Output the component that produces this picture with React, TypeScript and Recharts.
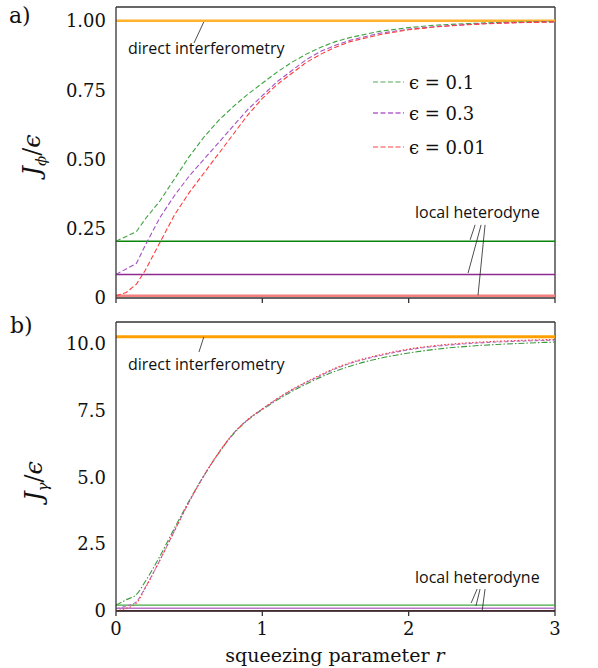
import { LineChart, Line, XAxis, YAxis, ReferenceLine } from 'recharts';

// squeezing parameter r
const R = [0, 0.07, 0.14, 0.2, 0.3, 0.4, 0.5, 0.6, 0.7, 0.8, 0.9, 1.0, 1.1, 1.2, 1.3, 1.4, 1.5, 1.6, 1.8, 2.0, 2.2, 2.4, 2.6, 2.8, 3.0];

// panel a) J_phi / eps
const phiEps01 = [0.205, 0.222, 0.24, 0.285, 0.35, 0.43, 0.51, 0.58, 0.64, 0.69, 0.735, 0.775, 0.815, 0.85, 0.88, 0.905, 0.925, 0.94, 0.962, 0.976, 0.985, 0.99, 0.994, 0.996, 0.997];
const phiEps03 = [0.085, 0.105, 0.125, 0.19, 0.29, 0.37, 0.44, 0.5, 0.56, 0.62, 0.68, 0.73, 0.78, 0.82, 0.86, 0.89, 0.912, 0.93, 0.955, 0.97, 0.98, 0.987, 0.992, 0.995, 0.997];
const phiEps001 = [0.008, 0.02, 0.05, 0.1, 0.2, 0.3, 0.38, 0.45, 0.52, 0.59, 0.66, 0.72, 0.77, 0.81, 0.85, 0.88, 0.905, 0.925, 0.95, 0.968, 0.979, 0.986, 0.991, 0.994, 0.996];
const phiDirect = 1.0;
const phiHetero = [0.205, 0.085, 0.008];

// panel b) J_gamma / eps
const gamEps01 = [0.22, 0.42, 0.62, 1.1, 2.05, 3.1, 4.12, 5.05, 5.88, 6.6, 7.13, 7.53, 7.88, 8.2, 8.48, 8.74, 8.96, 9.15, 9.44, 9.64, 9.79, 9.89, 9.96, 10.01, 10.05];
const gamEps03 = [0.08, 0.18, 0.35, 0.88, 1.9, 3.0, 4.08, 5.05, 5.9, 6.62, 7.15, 7.55, 7.92, 8.25, 8.54, 8.8, 9.05, 9.25, 9.54, 9.76, 9.9, 9.99, 10.05, 10.09, 10.12];
const gamEps001 = [0.01, 0.1, 0.3, 0.85, 1.9, 3.0, 4.08, 5.05, 5.9, 6.62, 7.15, 7.55, 7.93, 8.27, 8.56, 8.83, 9.08, 9.28, 9.57, 9.79, 9.93, 10.02, 10.08, 10.12, 10.15];
const gamDirect = 10.25;
const gamHetero = [0.22, 0.1, 0.01];

const xTicks = [0, 1, 2, 3];
const phiTicks = [0, 0.25, 0.5, 0.75, 1.0];
const gamTicks = [0, 2.5, 5.0, 7.5, 10.0];
const legendLabels = ['ϵ = 0.1', 'ϵ = 0.3', 'ϵ = 0.01'];

const SERIF = 'DejaVu Serif';
const SANS = 'Open Sans';
const FRAME = '#333';

const tickStyle = { fill: '#111', fontSize: 18, fontFamily: SERIF };

function Txt({ left, top, size = 16, font = SANS, children, style = {} }: any) {
  return (
    <div style={{ position: 'absolute', left, top, fontSize: size, fontFamily: font, lineHeight: 1, color: '#111', whiteSpace: 'nowrap', ...style }}>
      {children}
    </div>
  );
}

export default function App() {
  const topRows = R.map((r, i) => ({ r, g: phiEps01[i], p: phiEps03[i], d: phiEps001[i] }));
  const botRows = R.map((r, i) => ({ r, g: gamEps01[i], p: gamEps03[i], d: gamEps001[i] }));

  return (
    <div style={{ position: 'absolute', left: 0, top: 0, width: 598, height: 668, background: '#fff' }}>
      {/* a) */}
      <div style={{ position: 'absolute', left: 0, top: 0 }}>
        <LineChart width={598} height={320} data={topRows} margin={{ top: 7, right: 43, left: 56, bottom: 0 }}>
          <XAxis dataKey="r" type="number" domain={[0, 3]} ticks={xTicks} tickFormatter={() => ''} height={22} stroke={FRAME} strokeWidth={1.3} tickSize={5} />
          <YAxis type="number" domain={[0, 1.05]} allowDataOverflow ticks={phiTicks} width={60} tickLine={false} stroke={FRAME} strokeWidth={1.3} tick={tickStyle} tickSize={6} tickMargin={4} tickFormatter={(v: number) => (v === 0 ? '0' : v.toFixed(2))} />
          <ReferenceLine y={1.05} stroke={FRAME} strokeWidth={1.3} />
          <ReferenceLine x={3} stroke={FRAME} strokeWidth={1.3} />
          <ReferenceLine y={phiDirect} stroke="#ffb22e" strokeWidth={2.5} />
          <ReferenceLine y={phiHetero[0]} stroke="#0a850a" strokeWidth={1.4} />
          <ReferenceLine y={phiHetero[1]} stroke="#8e2a8e" strokeWidth={1.4} />
          <ReferenceLine y={phiHetero[2]} stroke="#f48080" strokeWidth={2.5} />
          <ReferenceLine segment={[{ x: 0.6, y: 0.996 }, { x: 0.533, y: 0.92 }]} stroke="#222" strokeWidth={0.8} ifOverflow="visible" />
          <ReferenceLine segment={[{ x: 2.454, y: 0.264 }, { x: 2.42, y: 0.21 }]} stroke="#222" strokeWidth={0.8} ifOverflow="visible" />
          <ReferenceLine segment={[{ x: 2.495, y: 0.264 }, { x: 2.406, y: 0.09 }]} stroke="#222" strokeWidth={0.8} ifOverflow="visible" />
          <ReferenceLine segment={[{ x: 2.522, y: 0.264 }, { x: 2.474, y: 0.01 }]} stroke="#222" strokeWidth={0.8} ifOverflow="visible" />
          <Line type="linear" dataKey="g" stroke="#3fa33f" strokeWidth={1.1} strokeDasharray="5 2.5" dot={false} isAnimationActive={false} />
          <Line type="linear" dataKey="p" stroke="#a552c2" strokeWidth={1.1} strokeDasharray="5 2.5" dot={false} isAnimationActive={false} />
          <Line type="linear" dataKey="d" stroke="#ff3b3b" strokeWidth={1.1} strokeDasharray="5 2.5" dot={false} isAnimationActive={false} />
        </LineChart>
      </div>

      {/* b) */}
      <div style={{ position: 'absolute', left: 0, top: 316 }}>
        <LineChart width={598} height={352} data={botRows} margin={{ top: 6, right: 43, left: 56, bottom: 22 }}>
          <XAxis dataKey="r" type="number" domain={[0, 3]} ticks={xTicks} height={35} stroke={FRAME} strokeWidth={1.3} tickSize={5} tickMargin={6} tick={tickStyle} />
          <YAxis type="number" domain={[0, 10.8]} allowDataOverflow ticks={gamTicks} width={60} tickLine={false} stroke={FRAME} strokeWidth={1.3} tick={tickStyle} tickSize={6} tickMargin={4} tickFormatter={(v: number) => (v === 0 ? '0' : v.toFixed(1))} />
          <ReferenceLine y={10.8} stroke={FRAME} strokeWidth={1.3} />
          <ReferenceLine x={3} stroke={FRAME} strokeWidth={1.3} />
          <ReferenceLine y={gamDirect} stroke="#ffa000" strokeWidth={3} />
          <ReferenceLine y={gamHetero[0]} stroke="#45a845" strokeWidth={1.4} />
          <ReferenceLine y={gamHetero[1]} stroke="#b877c8" strokeWidth={1.4} />
          <ReferenceLine y={gamHetero[2]} stroke="#7a0a2a" strokeWidth={1.4} />
          <ReferenceLine segment={[{ x: 0.6, y: 10.24 }, { x: 0.567, y: 9.68 }]} stroke="#222" strokeWidth={0.8} ifOverflow="visible" />
          <ReferenceLine segment={[{ x: 2.468, y: 0.82 }, { x: 2.427, y: 0.3 }]} stroke="#222" strokeWidth={0.8} ifOverflow="visible" />
          <ReferenceLine segment={[{ x: 2.488, y: 0.82 }, { x: 2.46, y: 0.19 }]} stroke="#222" strokeWidth={0.8} ifOverflow="visible" />
          <ReferenceLine segment={[{ x: 2.522, y: 0.82 }, { x: 2.502, y: 0.0 }]} stroke="#222" strokeWidth={0.8} ifOverflow="visible" />
          <Line type="monotone" dataKey="g" stroke="#3a9a3a" strokeWidth={1.1} strokeDasharray="6 2 1.5 2" dot={false} isAnimationActive={false} />
          <Line type="monotone" dataKey="p" stroke="#b070c8" strokeWidth={1.1} strokeDasharray="4 2" dot={false} isAnimationActive={false} />
          <Line type="monotone" dataKey="d" stroke="#ff3a3a" strokeWidth={1.1} strokeDasharray="1.5 2" dot={false} isAnimationActive={false} />
        </LineChart>
      </div>

      {/* legend */}
      {legendLabels.map((lab, i) => (
        <div key={lab} style={{ position: 'absolute', left: 373, top: [82, 113, 147][i] - 12, height: 24, display: 'flex', alignItems: 'center' }}>
          <svg width={32} height={4} style={{ marginRight: 4 }}>
            <line x1={0} y1={2} x2={31} y2={2} stroke={['#55aa55', '#c88ad8', '#ff4040'][i]} strokeWidth={i === 1 ? 2 : 1.2} strokeDasharray="5 2.5" />
          </svg>
          <span style={{ fontFamily: SERIF, fontSize: 18, color: '#111' }}>{lab}</span>
        </div>
      ))}

      {/* annotations */}
      <Txt left={128} top={40}>direct interferometry</Txt>
      <Txt left={415} top={204}>local heterodyne</Txt>
      <Txt left={128} top={356}>direct interferometry</Txt>
      <Txt left={415} top={569}>local heterodyne</Txt>

      {/* panel labels */}
      <Txt left={9} top={5} size={22} font={SERIF}>a)</Txt>
      <Txt left={10} top={315} size={22} font={SERIF}>b)</Txt>

      {/* y labels */}
      <div style={{ position: 'absolute', left: 34, top: 155, transform: 'translate(-50%, -50%) rotate(-90deg)', fontFamily: SERIF, fontSize: 24, whiteSpace: 'nowrap', color: '#111' }}>
        <i>J</i><sub style={{ fontSize: 15 }}><i>ϕ</i></sub><span>/</span><i>ϵ</i>
      </div>
      <div style={{ position: 'absolute', left: 36, top: 481, transform: 'translate(-50%, -50%) rotate(-90deg)', fontFamily: SERIF, fontSize: 24, whiteSpace: 'nowrap', color: '#111' }}>
        <i>J</i><sub style={{ fontSize: 15 }}><i>γ</i></sub><span>/</span><i>ϵ</i>
      </div>

      {/* x label */}
      <div style={{ position: 'absolute', left: 335, top: 655, transform: 'translate(-50%, -50%)', fontFamily: SERIF, fontSize: 19, whiteSpace: 'nowrap', color: '#111' }}>
        squeezing parameter <i>r</i>
      </div>
    </div>
  );
}
